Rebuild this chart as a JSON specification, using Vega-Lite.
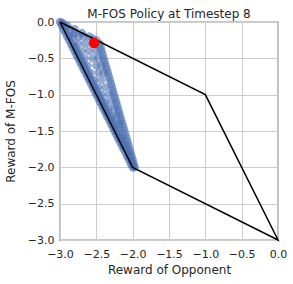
{
  "$schema": "https://vega.github.io/schema/vega-lite/v6.json",
  "width": 218,
  "height": 218,
  "autosize": {"type": "none"},
  "padding": {"left": 60, "top": 22, "right": 15, "bottom": 44},
  "background": "white",
  "title": {"text": "M-FOS Policy at Timestep 8", "font": "DejaVu Sans", "fontSize": 12, "fontWeight": "normal", "color": "#262626", "offset": -5},
  "config": {
    "view": {"stroke": "#262626", "strokeWidth": 1.2},
    "axis": {
      "labelFont": "DejaVu Sans", "titleFont": "DejaVu Sans",
      "labelFontSize": 11, "titleFontSize": 12, "titleFontWeight": "normal",
      "labelColor": "#262626", "titleColor": "#262626",
      "gridColor": "#cccccc", "gridWidth": 1, "ticks": false,
      "domain": false, "labelOverlap": false
    },
    "axisX": {"labelPadding": 8, "titlePadding": 5},
    "axisY": {"labelPadding": 6, "titlePadding": 10}
  },
  "datasets": {
    "pts": [
      {"x": -3.0, "y": 0.0}, {"x": -2.98, "y": -0.01}, {"x": -2.96, "y": -0.02},
      {"x": -2.975, "y": -0.05}, {"x": -2.9, "y": -0.05}, {"x": -2.94, "y": -0.05},
      {"x": -2.95, "y": -0.1}, {"x": -2.8, "y": -0.1}, {"x": -2.87, "y": -0.1}, {"x": -2.92, "y": -0.1},
      {"x": -2.925, "y": -0.15}, {"x": -2.7, "y": -0.15}, {"x": -2.8, "y": -0.15},
      {"x": -2.9, "y": -0.2}, {"x": -2.6, "y": -0.2}, {"x": -2.75, "y": -0.2}, {"x": -2.82, "y": -0.2}, {"x": -2.68, "y": -0.2}, {"x": -2.87, "y": -0.2},
      {"x": -2.875, "y": -0.25}, {"x": -2.5, "y": -0.25}, {"x": -2.55, "y": -0.23},
      {"x": -2.85, "y": -0.3}, {"x": -2.456, "y": -0.3}, {"x": -2.65, "y": -0.3}, {"x": -2.55, "y": -0.3}, {"x": -2.75, "y": -0.3}, {"x": -2.82, "y": -0.3},
      {"x": -2.825, "y": -0.35}, {"x": -2.44, "y": -0.35}, {"x": -2.79, "y": -0.35},
      {"x": -2.8, "y": -0.4}, {"x": -2.427, "y": -0.4}, {"x": -2.7, "y": -0.4}, {"x": -2.6, "y": -0.4}, {"x": -2.5, "y": -0.4}, {"x": -2.77, "y": -0.4},
      {"x": -2.775, "y": -0.45}, {"x": -2.413, "y": -0.45}, {"x": -2.745, "y": -0.45},
      {"x": -2.75, "y": -0.5}, {"x": -2.399, "y": -0.5}, {"x": -2.66, "y": -0.5}, {"x": -2.55, "y": -0.5}, {"x": -2.47, "y": -0.5}, {"x": -2.72, "y": -0.5},
      {"x": -2.725, "y": -0.55}, {"x": -2.385, "y": -0.55}, {"x": -2.695, "y": -0.55},
      {"x": -2.7, "y": -0.6}, {"x": -2.37, "y": -0.6}, {"x": -2.62, "y": -0.6}, {"x": -2.5, "y": -0.6}, {"x": -2.43, "y": -0.6}, {"x": -2.67, "y": -0.6},
      {"x": -2.675, "y": -0.65}, {"x": -2.356, "y": -0.65}, {"x": -2.645, "y": -0.65},
      {"x": -2.65, "y": -0.7}, {"x": -2.341, "y": -0.7}, {"x": -2.58, "y": -0.7}, {"x": -2.47, "y": -0.7}, {"x": -2.4, "y": -0.7}, {"x": -2.62, "y": -0.7},
      {"x": -2.625, "y": -0.75}, {"x": -2.327, "y": -0.75}, {"x": -2.595, "y": -0.75},
      {"x": -2.6, "y": -0.8}, {"x": -2.313, "y": -0.8}, {"x": -2.53, "y": -0.8}, {"x": -2.43, "y": -0.8}, {"x": -2.57, "y": -0.8},
      {"x": -2.575, "y": -0.85}, {"x": -2.298, "y": -0.85}, {"x": -2.545, "y": -0.85},
      {"x": -2.55, "y": -0.9}, {"x": -2.284, "y": -0.9}, {"x": -2.48, "y": -0.9}, {"x": -2.38, "y": -0.9}, {"x": -2.52, "y": -0.9},
      {"x": -2.525, "y": -0.95}, {"x": -2.27, "y": -0.95}, {"x": -2.495, "y": -0.95},
      {"x": -2.5, "y": -1.0}, {"x": -2.256, "y": -1.0}, {"x": -2.43, "y": -1.0}, {"x": -2.33, "y": -1.0}, {"x": -2.47, "y": -1.0},
      {"x": -2.475, "y": -1.05}, {"x": -2.241, "y": -1.05}, {"x": -2.445, "y": -1.05},
      {"x": -2.45, "y": -1.1}, {"x": -2.227, "y": -1.1}, {"x": -2.38, "y": -1.1}, {"x": -2.29, "y": -1.1}, {"x": -2.42, "y": -1.1},
      {"x": -2.425, "y": -1.15}, {"x": -2.213, "y": -1.15}, {"x": -2.395, "y": -1.15},
      {"x": -2.4, "y": -1.2}, {"x": -2.199, "y": -1.2}, {"x": -2.33, "y": -1.2}, {"x": -2.25, "y": -1.2}, {"x": -2.37, "y": -1.2},
      {"x": -2.375, "y": -1.25}, {"x": -2.184, "y": -1.25}, {"x": -2.345, "y": -1.25},
      {"x": -2.35, "y": -1.3}, {"x": -2.17, "y": -1.3}, {"x": -2.28, "y": -1.3}, {"x": -2.22, "y": -1.3}, {"x": -2.32, "y": -1.3},
      {"x": -2.325, "y": -1.35}, {"x": -2.156, "y": -1.35}, {"x": -2.295, "y": -1.35},
      {"x": -2.3, "y": -1.4}, {"x": -2.141, "y": -1.4}, {"x": -2.23, "y": -1.4}, {"x": -2.27, "y": -1.4}, {"x": -2.18, "y": -1.4},
      {"x": -2.275, "y": -1.45}, {"x": -2.127, "y": -1.45}, {"x": -2.245, "y": -1.45},
      {"x": -2.25, "y": -1.5}, {"x": -2.113, "y": -1.5}, {"x": -2.18, "y": -1.5}, {"x": -2.22, "y": -1.5},
      {"x": -2.225, "y": -1.55}, {"x": -2.099, "y": -1.55}, {"x": -2.195, "y": -1.55},
      {"x": -2.2, "y": -1.6}, {"x": -2.084, "y": -1.6}, {"x": -2.14, "y": -1.6}, {"x": -2.17, "y": -1.6},
      {"x": -2.175, "y": -1.65}, {"x": -2.07, "y": -1.65}, {"x": -2.145, "y": -1.65},
      {"x": -2.15, "y": -1.7}, {"x": -2.056, "y": -1.7}, {"x": -2.1, "y": -1.7}, {"x": -2.12, "y": -1.7},
      {"x": -2.125, "y": -1.75}, {"x": -2.041, "y": -1.75}, {"x": -2.085, "y": -1.75},
      {"x": -2.1, "y": -1.8}, {"x": -2.027, "y": -1.8}, {"x": -2.06, "y": -1.8},
      {"x": -2.075, "y": -1.85}, {"x": -2.013, "y": -1.85}, {"x": -2.045, "y": -1.85},
      {"x": -2.05, "y": -1.9}, {"x": -1.999, "y": -1.9}, {"x": -2.02, "y": -1.9},
      {"x": -2.025, "y": -1.95}, {"x": -1.985, "y": -1.95}, {"x": -2.005, "y": -1.95},
      {"x": -2.0, "y": -2.0}, {"x": -1.97, "y": -2.0}, {"x": -1.985, "y": -1.99}
    ],
    "poly": [
      {"x": -3, "y": 0, "o": 0},
      {"x": -1, "y": -1, "o": 1},
      {"x": 0, "y": -3, "o": 2},
      {"x": -2, "y": -2, "o": 3},
      {"x": -3, "y": 0, "o": 4}
    ],
    "red": [{"x": -2.53, "y": -0.29}]
  },
  "encoding": {
    "x": {"field": "x", "type": "quantitative", "scale": {"domain": [-3, 0], "nice": false}, "axis": {"title": "Reward of Opponent", "values": [-3, -2.5, -2, -1.5, -1, -0.5, 0], "format": ".1f", "labelFlush": false}},
    "y": {"field": "y", "type": "quantitative", "scale": {"domain": [-3, 0], "nice": false}, "axis": {"title": "Reward of M-FOS", "values": [-3, -2.5, -2, -1.5, -1, -0.5, 0], "format": ".1f", "labelFlush": false}}
  },
  "layer": [
    {
      "data": {"name": "pts"},
      "mark": {"type": "point", "filled": true, "shape": "circle", "size": 70, "color": "#4C72B0", "opacity": 0.6}
    },
    {
      "data": {"name": "poly"},
      "mark": {"type": "line", "color": "black", "strokeWidth": 1.5},
      "encoding": {
        "order": {"field": "o", "type": "quantitative"}
      }
    },
    {
      "data": {"name": "red"},
      "mark": {"type": "point", "filled": true, "shape": "circle", "size": 110, "color": "red", "opacity": 1}
    }
  ]
}
